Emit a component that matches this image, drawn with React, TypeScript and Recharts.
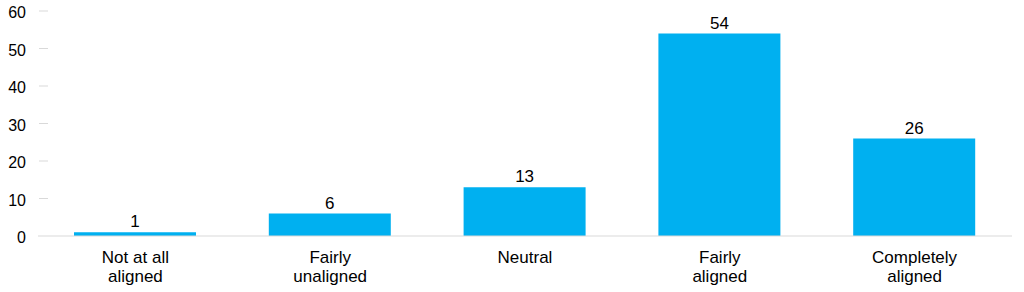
import React from 'react';
import { BarChart, Bar, XAxis, YAxis, LabelList } from 'recharts';

const categories = [
  'Not at all\naligned',
  'Fairly\nunaligned',
  'Neutral',
  'Fairly\naligned',
  'Completely\naligned',
];
const values = [1, 6, 13, 54, 26];
const yTicks = [0, 10, 20, 30, 40, 50, 60];

const data = categories.map((name, i) => ({ name, value: values[i] }));

const FONT = '"Liberation Sans", Arial, sans-serif';

const XTick = (props: any) => {
  const { x, y, payload } = props;
  const lines = String(payload.value).split('\n');
  return (
    <g>
      {lines.map((line: string, i: number) => (
        <text
          key={i}
          x={x}
          y={y + 18.5 + i * 19.5}
          textAnchor="middle"
          fontSize={17}
          fontFamily={FONT}
          fill="#000"
        >
          {line}
        </text>
      ))}
    </g>
  );
};

const YTick = (props: any) => {
  const { x, y, payload } = props;
  return (
    <g>
      {payload.value !== 0 && (
        <line x1={x + 1} x2={x + 10} y1={y} y2={y} stroke="#d9d9d9" strokeWidth={1} />
      )}
      <text
        x={x - 12}
        y={y + 7}
        textAnchor="end"
        fontSize={16}
        fontFamily={FONT}
        fill="#000"
      >
        {payload.value}
      </text>
    </g>
  );
};

const App = () => {
  return (
    <div style={{ position: 'absolute', left: 0, top: 0 }}>
      <BarChart
        width={1024}
        height={292}
        data={data}
        margin={{ top: 11, right: 12, bottom: 0, left: 0 }}
      >
        <XAxis
          dataKey="name"
          axisLine={{ stroke: '#d9d9d9' }}
          tickLine={false}
          tick={<XTick />}
          interval={0}
          height={56}
        />
        <YAxis
          domain={[0, 60]}
          ticks={yTicks}
          axisLine={false}
          tickLine={false}
          tickSize={0}
          tickMargin={0}
          tick={<YTick />}
          width={38}
          interval={0}
        />
        <Bar dataKey="value" fill="#00b0f0" barSize={122} isAnimationActive={false}>
          <LabelList
            dataKey="value"
            position="top"
            offset={5}
            fontSize={17}
            fontFamily={FONT}
            fill="#000"
          />
        </Bar>
      </BarChart>
    </div>
  );
};

export default App;
